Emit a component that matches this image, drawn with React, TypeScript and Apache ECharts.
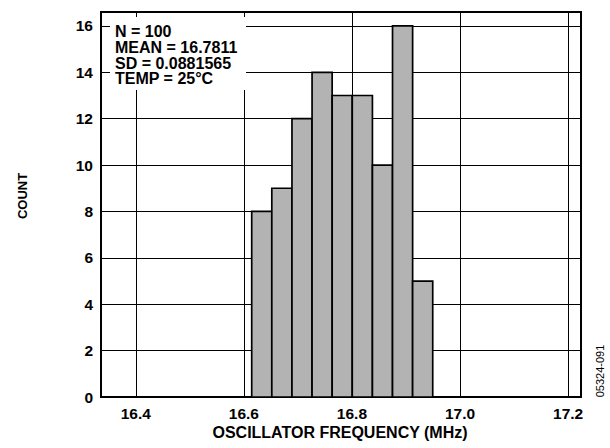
import React, { useEffect, useRef } from "react";
import * as echarts from "echarts";

// Histogram bin edges (MHz) and counts
const binEdges = [16.6145, 16.6517, 16.689, 16.7262, 16.7634, 16.8006, 16.8379, 16.8751, 16.9123, 16.9495];
const counts = [8, 9, 12, 14, 13, 13, 10, 16, 5];
const xTicks = [16.4, 16.6, 16.8, 17.0, 17.2];
const yTicks = [0, 2, 4, 6, 8, 10, 12, 14, 16];
const statLines = ["N = 100", "MEAN = 16.7811", "SD = 0.0881565", "TEMP = 25°C"];
const xTitle = "OSCILLATOR FREQUENCY (MHz)";
const yTitle = "COUNT";
const figureCode = "05324-091";

const FONT = "'Liberation Sans', Arial, Helvetica, sans-serif";

export default function App() {
  const ref = useRef<HTMLDivElement>(null);
  useEffect(() => {
    if (!ref.current) return;
    const chart = echarts.init(ref.current, undefined, { renderer: "svg" });
    const data = counts.map((c, i) => [binEdges[i], binEdges[i + 1], c]);
    chart.setOption({
      animation: false,
      backgroundColor: "#fff",
      grid: {
        left: 101,
        right: 29,
        top: 12,
        bottom: 51,
        show: true,
        borderColor: "#000",
        borderWidth: 2,
        backgroundColor: "transparent",
      },
      xAxis: {
        type: "value",
        min: 16.3356,
        max: 17.2239,
        axisLine: { show: false },
        axisTick: { show: false, customValues: xTicks },
        axisLabel: {
          customValues: xTicks,
          formatter: (v: number) => v.toFixed(1),
          color: "#000",
          fontFamily: FONT,
          fontWeight: "bold",
          fontSize: 15.5,
          lineHeight: 16,
          margin: 8,
        },
        splitLine: { show: true, lineStyle: { color: "#000", width: 1 } },
      },
      yAxis: {
        type: "value",
        min: 0,
        max: 16.6,
        interval: 2,
        axisLine: { show: false },
        axisTick: { show: false, customValues: yTicks },
        axisLabel: {
          customValues: yTicks,
          color: "#000",
          fontFamily: FONT,
          fontWeight: "bold",
          fontSize: 15.5,
          margin: 8,
        },
        splitLine: { show: true, lineStyle: { color: "#000", width: 1 } },
      },
      series: [
        {
          type: "custom",
          z: 5,
          encode: { x: [0, 1], y: 2 },
          data,
          renderItem: (params: any, api: any) => {
            const p0 = api.coord([api.value(0), 0]);
            const p1 = api.coord([api.value(1), api.value(2)]);
            return {
              type: "rect",
              shape: { x: p0[0], y: p1[1], width: p1[0] - p0[0], height: p0[1] - p1[1] },
              style: { fill: "#b3b3b3", stroke: "#000", lineWidth: 1.7 },
            };
          },
        },
      ],
      graphic: [
        {
          type: "rect",
          z: 100,
          shape: { x: 110, y: 17, width: 136, height: 73 },
          style: { fill: "#fff" },
        },
        ...statLines.map((t, i) => ({
          type: "text",
          z: 101,
          x: 115,
          y: 31.2 + i * 15.9,
          style: {
            text: t,
            fill: "#000",
            font: `bold 16px ${FONT}`,
            textAlign: "left",
            textVerticalAlign: "middle",
          },
        })),
        {
          type: "text",
          z: 101,
          x: 340,
          y: 432.5,
          style: {
            text: xTitle,
            fill: "#000",
            font: `bold 16px ${FONT}`,
            textAlign: "center",
            textVerticalAlign: "middle",
          },
        },
        {
          type: "text",
          z: 101,
          x: 22,
          y: 196,
          rotation: Math.PI / 2,
          style: {
            text: yTitle,
            fill: "#000",
            font: `bold 13px ${FONT}`,
            textAlign: "center",
            textVerticalAlign: "middle",
          },
        },
        {
          type: "text",
          z: 101,
          x: 600,
          y: 371,
          rotation: Math.PI / 2,
          style: {
            text: figureCode,
            fill: "#000",
            font: `11px ${FONT}`,
            textAlign: "center",
            textVerticalAlign: "middle",
          },
        },
      ],
    });
    return () => chart.dispose();
  }, []);
  return (
    <div
      ref={ref}
      style={{ position: "fixed", left: 0, top: 0, width: 610, height: 448 }}
    />
  );
}
